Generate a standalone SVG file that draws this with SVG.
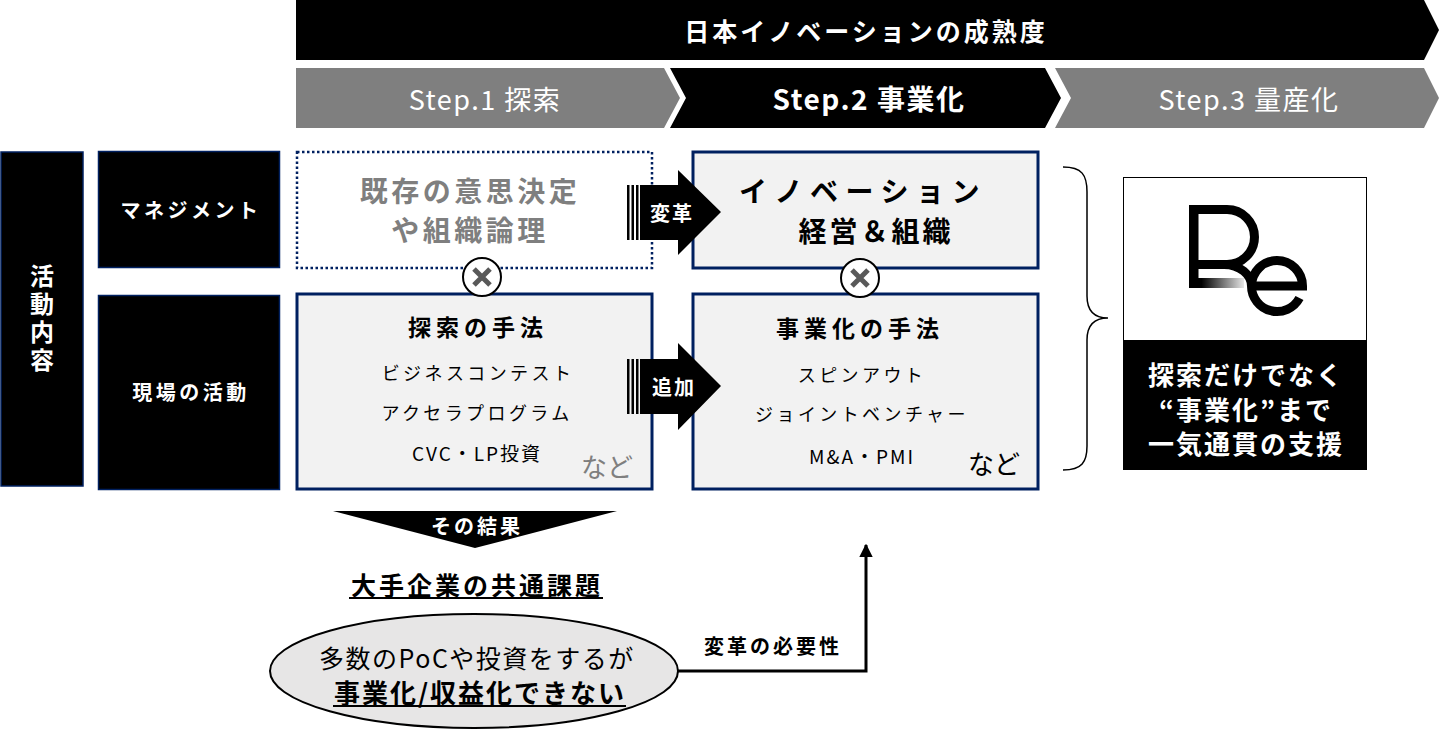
<svg xmlns="http://www.w3.org/2000/svg" width="1440" height="750" viewBox="0 0 1440 750">
<style>
text{font-family:"Noto Sans CJK JP","Noto Sans",sans-serif;dominant-baseline:central;text-anchor:middle}
.b{font-weight:700}
.w{fill:#fff}
.k{fill:#000}
.g{fill:#7f7f7f}
.box{fill:#f2f2f2;stroke:#002060;stroke-width:3}
.lab{fill:#000;stroke:#002060;stroke-width:1.5}
.step{fill:#7f7f7f}
.x{stroke:#595959;stroke-width:5;stroke-linecap:butt}
</style>
<defs>
<linearGradient id="fade" x1="0" y1="0" x2="1" y2="0">
<stop offset="0" stop-color="#000"/>
<stop offset="0.15" stop-color="#000"/>
<stop offset="1" stop-color="#e6e6e6"/>
</linearGradient>
<marker id="ah" viewBox="0 0 10 10" refX="9" refY="5" markerWidth="4.5" markerHeight="5" markerUnits="strokeWidth" orient="auto">
<path d="M0,0 L10,5 L0,10 z" fill="#000"/>
</marker>
</defs>

<g id="banner">
<polygon points="296,0 1424,0 1439,30 1424,60 296,60" fill="#000"/>
<text x="866" y="30" class="b w" font-size="25" letter-spacing="3">日本イノベーションの成熟度</text>
</g>

<g id="step1">
<polygon class="step" points="296,68 664,68 680,98 664,128 296,128"/>
<text x="485" y="98" class="w" font-size="27" letter-spacing="1.5">Step.1 探索</text>
</g>
<g id="step2">
<polygon points="670,68 1045,68 1061,98 1045,128 670,128 686,98" fill="#000"/>
<text x="869" y="98" class="b w" font-size="28" letter-spacing="1.5">Step.2 事業化</text>
</g>
<g id="step3">
<polygon class="step" points="1055,68 1424,68 1439,98 1424,128 1055,128 1071,98"/>
<text x="1249" y="98" class="w" font-size="27" letter-spacing="1.5">Step.3 量産化</text>
</g>

<g id="activity">
<rect class="lab" x="1" y="152" width="82" height="334"/>
<text x="42" y="320" class="b w" font-size="24" letter-spacing="4" writing-mode="vertical-rl">活動内容</text>
</g>
<g id="management">
<rect class="lab" x="98.5" y="151.5" width="181" height="116"/>
<text x="191" y="209" class="b w" font-size="20" letter-spacing="3.5">マネジメント</text>
</g>
<g id="field">
<rect class="lab" x="98.5" y="295.5" width="181" height="194"/>
<text x="191" y="391" class="b w" font-size="20" letter-spacing="3.5">現場の活動</text>
</g>

<g id="existing">
<rect x="297" y="152" width="355" height="116" fill="#fff" stroke="#002060" stroke-width="2.5" stroke-dasharray="2.5,2.5"/>
<text x="470" y="190" class="b g" font-size="28" letter-spacing="3.5">既存の意思決定</text>
<text x="470" y="229" class="b g" font-size="28" letter-spacing="3.5">や組織論理</text>
</g>

<g id="innovation">
<rect class="box" x="693" y="152" width="345" height="116"/>
<text x="863" y="190" class="b k" font-size="28" letter-spacing="7.5">イノベーション</text>
<text x="876" y="230" class="b k" font-size="28" letter-spacing="3">経営＆組織</text>
</g>

<g id="explore">
<rect class="box" x="297" y="294" width="355" height="195"/>
<text x="478" y="326" class="b k" font-size="23" letter-spacing="5">探索の手法</text>
<text x="478" y="372" class="k" font-size="18" letter-spacing="3.4">ビジネスコンテスト</text>
<text x="477" y="412" class="k" font-size="18" letter-spacing="3.4">アクセラプログラム</text>
<text x="477" y="452" class="k" font-size="19" letter-spacing="2">CVC・LP投資</text>
<text x="607" y="465" class="g" font-size="26">など</text>
</g>

<g id="commercial">
<rect class="box" x="693" y="294" width="345" height="195"/>
<text x="860" y="327" class="b k" font-size="23" letter-spacing="5">事業化の手法</text>
<text x="862" y="374" class="k" font-size="18" letter-spacing="3.4">スピンアウト</text>
<text x="862" y="413" class="k" font-size="18" letter-spacing="3.4">ジョイントベンチャー</text>
<text x="862" y="455" class="k" font-size="19" letter-spacing="2">M&amp;A・PMI</text>
<text x="994" y="462" class="k" font-size="26">など</text>
</g>

<g id="times1">
<circle cx="482" cy="277" r="19" fill="#fff" stroke="#000" stroke-width="2"/>
<path class="x" d="M474,269 L490,285 M490,269 L474,285"/>
</g>
<g id="times2">
<circle cx="860" cy="278" r="19" fill="#fff" stroke="#000" stroke-width="2"/>
<path class="x" d="M852,270 L868,286 M868,270 L852,286"/>
</g>

<g id="arrow-henkaku">
<rect x="627" y="185" width="2.5" height="55" fill="#000"/>
<rect x="631.5" y="185" width="2.5" height="55" fill="#000"/>
<rect x="636" y="185" width="2.5" height="55" fill="#000"/>
<polygon points="640,185 678,185 678,170 721,212 678,255 678,240 640,240" fill="#000"/>
<text x="672" y="212" class="b w" font-size="20" letter-spacing="2">変革</text>
</g>
<g id="arrow-tsuika">
<rect x="627" y="359" width="2.5" height="55" fill="#000"/>
<rect x="631.5" y="359" width="2.5" height="55" fill="#000"/>
<rect x="636" y="359" width="2.5" height="55" fill="#000"/>
<polygon points="640,359 678,359 678,343 721,386 678,430 678,414 640,414" fill="#000"/>
<text x="674" y="386" class="b w" font-size="20" letter-spacing="2">追加</text>
</g>

<g id="brace">
<path d="M1063,167 C1082,167 1087,175 1087,192 V296 C1087,311 1094,318 1108,318 C1094,318 1087,325 1087,340 V446 C1087,462 1082,470 1063,470" fill="none" stroke="#000" stroke-width="1.5"/>
</g>

<g id="re-support">
<rect x="1123.5" y="177.5" width="243" height="292" fill="#fff" stroke="#000" stroke-width="1"/>
<rect x="1123" y="340" width="244" height="130" fill="#000"/>
<g id="logo">
<rect x="1194" y="278" width="50" height="10" fill="url(#fade)"/>
<rect x="1189" y="205" width="9.5" height="83" fill="#000"/>
<path d="M1192,209.5 H1227 A27.5 27.5 0 0 1 1227,264.5 H1194" fill="none" stroke="#000" stroke-width="9"/>
<path d="M1224,264.5 C1240,264.5 1251.5,275 1251.5,286 A25.5 25.5 0 0 0 1299.5,298" fill="none" stroke="#000" stroke-width="9"/>
<path d="M1251.5,286 A25.5 25.5 0 0 1 1302.5,286 H1251.5" fill="none" stroke="#000" stroke-width="9"/>
</g>
<text x="1246" y="373" class="b w" font-size="26" letter-spacing="2">探索だけでなく</text>
<text x="1246" y="408" class="b w" font-size="26" letter-spacing="2">“事業化”まで</text>
<text x="1246" y="442" class="b w" font-size="26" letter-spacing="2">一気通貫の支援</text>
</g>

<g id="result">
<polygon points="333,511 617,511 475,548" fill="#000"/>
<text x="477" y="525" class="b w" font-size="20" letter-spacing="3">その結果</text>
</g>

<g id="issue-title">
<text x="477" y="584" class="b k" font-size="25" letter-spacing="3">大手企業の共通課題</text>
<line x1="349" y1="598" x2="603" y2="598" stroke="#000" stroke-width="2"/>
</g>

<g id="issue">
<ellipse cx="474" cy="671" rx="204" ry="57" fill="#e7e6e6" stroke="#000" stroke-width="2"/>
<text x="477" y="657" class="k" font-size="25" letter-spacing="1.5">多数のPoCや投資をするが</text>
<text x="480" y="691" class="b k" font-size="26" letter-spacing="2">事業化/収益化できない</text>
<line x1="333" y1="706" x2="626" y2="706" stroke="#000" stroke-width="2"/>
</g>

<g id="connectors">
<path d="M678,671 H866 V545" fill="none" stroke="#000" stroke-width="3" marker-end="url(#ah)"/>
<text x="773" y="645" class="b k" font-size="20" letter-spacing="3">変革の必要性</text>
</g>
</svg>
